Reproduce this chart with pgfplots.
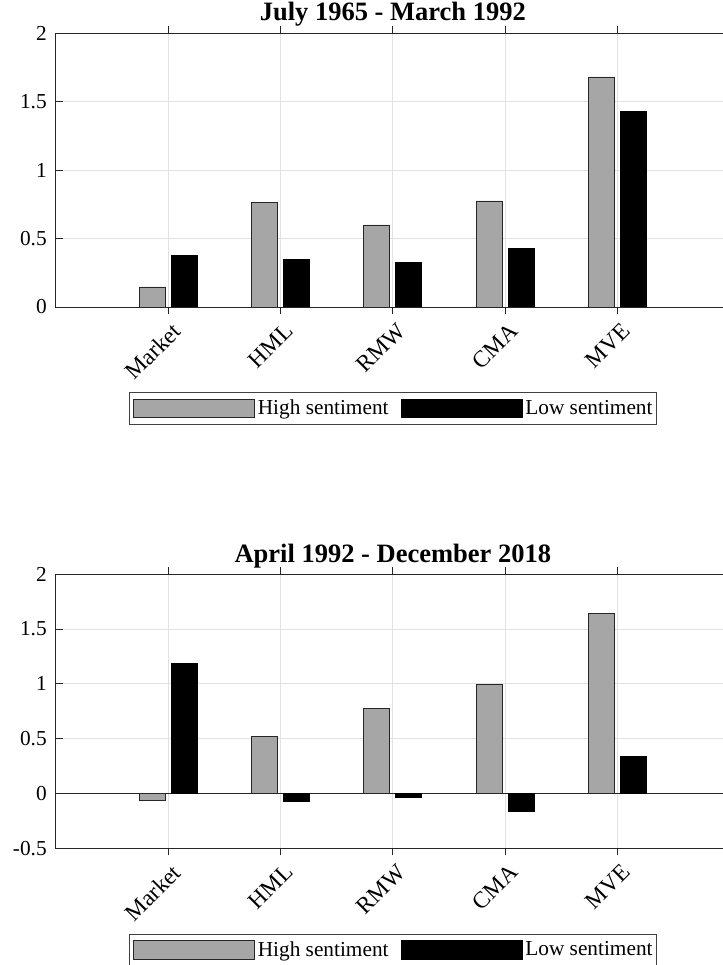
\documentclass[border=0pt]{standalone}
\usepackage{pgfplots}
\pgfplotsset{compat=1.18}
\usepackage{fontspec}
\setmainfont{Liberation Serif}

\definecolor{highgray}{RGB}{166,166,166}
\definecolor{axisgray}{RGB}{38,38,38}
\definecolor{gridgray}{RGB}{225,225,225}

\pgfplotsset{
  sentpanel/.style={
    scale only axis,
    width=674.4pt, height=274pt,
    xmin=0, xmax=6,
    xtick={1,2,3,4,5},
    xticklabels={Market,HML,RMW,CMA,MVE},
    ytick distance=0.5,
    xtick pos=both, ytick pos=left,
    tick align=inside,
    major tick length=7pt,
    every tick/.style={axisgray, line width=0.8pt},
    axis line style={axisgray, line width=0.9pt},
    xmajorgrids, ymajorgrids,
    major grid style={gridgray, line width=0.8pt},
    extra y ticks={0},
    extra y tick labels={},
    extra y tick style={grid=major, major grid style={axisgray, line width=0.9pt}, major tick length=0pt},
    /pgf/number format/assume math mode=true,
    yticklabel style={font=\fontsize{21.3}{25}\selectfont, inner sep=0pt, xshift=-8.7pt},
    xticklabel style={font=\fontsize{23.3}{27}\selectfont, inner sep=0pt,
      xshift=3pt, yshift=-7.5pt, rotate=45, anchor=north east},
    every axis title/.style={at={(0.5,1)}, anchor=base, yshift=12pt,
      font=\bfseries\fontsize{26.5}{31}\selectfont},
    ybar=6pt, bar width=26pt,
    legend columns=2,
    legend cell align=left,
    legend image code/.code={\draw[#1] (0pt,-9.35pt) rectangle (121pt,9.35pt);},
    legend style={
      at={(0.5,0)}, anchor=north, yshift=-85.5pt,
      draw=black!75, line width=0.6pt, fill=white,
      inner xsep=4pt, inner ysep=6pt,
      nodes={inner sep=0pt, text depth=0.22em},
      /tikz/every odd column/.append style={column sep=3pt},
      /tikz/every even column/.append style={column sep=12pt},
      font=\fontsize{21.3}{25}\selectfont,
    },
  },
  highbar/.style={fill=highgray, draw=axisgray, line width=0.8pt},
  lowbar/.style={fill=black, draw=black, line width=0.8pt},
}

\begin{document}
\begin{tikzpicture}[x=1pt,y=1pt]

% First subsample
\begin{axis}[sentpanel, at={(55.6pt,658pt)}, anchor=south west,
  ymin=0, ymax=2,
  title={July 1965 - March 1992}]
  \addplot[highbar] coordinates {(1,0.146) (2,0.764) (3,0.599) (4,0.774) (5,1.679)};
  \addplot[lowbar] coordinates {(1,0.375) (2,0.348) (3,0.328) (4,0.426) (5,1.428)};
  \legend{High sentiment, Low sentiment}
\end{axis}

% Second subsample
\begin{axis}[sentpanel, at={(55.6pt,116.7pt)}, anchor=south west,
  ymin=-0.5, ymax=2,
  title={April 1992 - December 2018}]
  \addplot[highbar] coordinates {(1,-0.061) (2,0.520) (3,0.778) (4,0.994) (5,1.644)};
  \addplot[lowbar] coordinates {(1,1.190) (2,-0.076) (3,-0.036) (4,-0.161) (5,0.340)};
  \legend{High sentiment, Low sentiment}
\end{axis}

\pgfresetboundingbox
\useasboundingbox (0pt,0pt) rectangle (722pt,965pt);
\end{tikzpicture}
\end{document}
